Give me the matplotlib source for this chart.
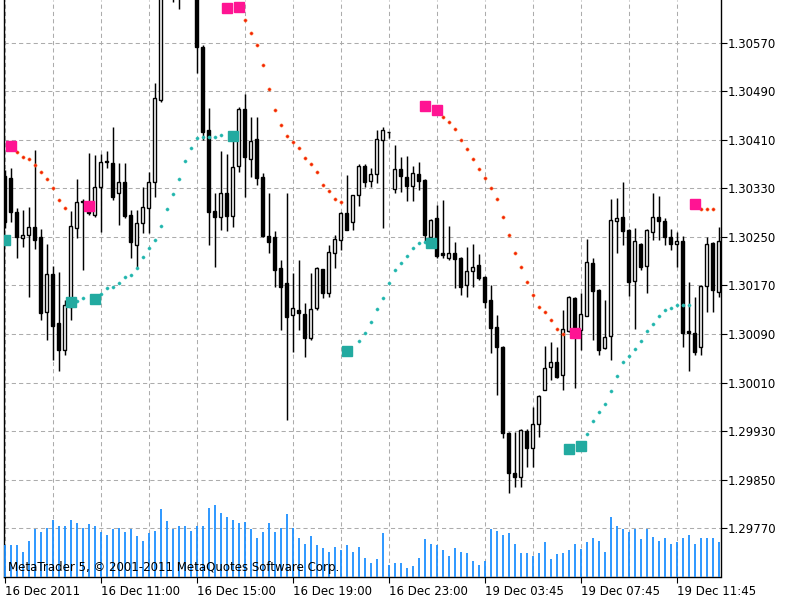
import numpy as np
import matplotlib
matplotlib.use("Agg")
from matplotlib import pyplot as plt

# EURUSD M15 bars, 16-19 Dec 2011 (prices)
opens = [1.30351, 1.30348, 1.30291, 1.30249, 1.30253, 1.30267, 1.30250, 1.30126, 1.30189, 1.30108,
         1.30064, 1.30135, 1.30265, 1.30308, 1.30306, 1.30286, 1.30333, 1.30374, 1.30372, 1.30323,
         1.30341, 1.30286, 1.30237, 1.30273, 1.30298, 1.30341, 1.30476, 1.30666, 1.30705, 1.30660,
         1.30680, 1.30725, 1.30700, 1.30563, 1.30427, 1.30293, 1.30283, 1.30323, 1.30285, 1.30367,
         1.30461, 1.30379, 1.30412, 1.30349, 1.30252, 1.30250, 1.30199, 1.30174, 1.30121, 1.30130,
         1.30123, 1.30084, 1.30133, 1.30197, 1.30158, 1.30224, 1.30245, 1.30290, 1.30275, 1.30319,
         1.30367, 1.30343, 1.30354, 1.30410, 1.30423, 1.30329, 1.30362, 1.30349, 1.30334, 1.30354,
         1.30344, 1.30250, 1.30281, 1.30224, 1.30216, 1.30224, 1.30216, 1.30171, 1.30194, 1.30204,
         1.30184, 1.30146, 1.30102, 1.30069, 1.29927, 1.29861, 1.29854, 1.29930, 1.29902, 1.29942,
         1.29998, 1.30036, 1.30044, 1.30023, 1.30095, 1.30150, 1.30097, 1.30120, 1.30207, 1.30163,
         1.30067, 1.30087, 1.30277, 1.30283, 1.30262, 1.30178, 1.30239, 1.30202, 1.30258, 1.30283,
         1.30277, 1.30250, 1.30239, 1.30244, 1.30095, 1.30092, 1.30069, 1.30169, 1.30240, 1.30159]
highs = [1.30361, 1.30364, 1.30298, 1.30295, 1.30300, 1.30394, 1.30263, 1.30239, 1.30202, 1.30192,
         1.30146, 1.30293, 1.30346, 1.30313, 1.30389, 1.30385, 1.30387, 1.30392, 1.30432, 1.30372,
         1.30372, 1.30295, 1.30295, 1.30333, 1.30357, 1.30504, 1.30683, 1.30720, 1.30730, 1.30700,
         1.30740, 1.30760, 1.30715, 1.30567, 1.30463, 1.30323, 1.30392, 1.30387, 1.30412, 1.30465,
         1.30486, 1.30448, 1.30448, 1.30356, 1.30323, 1.30260, 1.30212, 1.30323, 1.30191, 1.30212,
         1.30141, 1.30191, 1.30201, 1.30198, 1.30237, 1.30253, 1.30291, 1.30352, 1.30320, 1.30371,
         1.30371, 1.30364, 1.30427, 1.30432, 1.30424, 1.30402, 1.30382, 1.30384, 1.30367, 1.30374,
         1.30345, 1.30279, 1.30303, 1.30311, 1.30268, 1.30242, 1.30217, 1.30234, 1.30239, 1.30222,
         1.30185, 1.30171, 1.30121, 1.30070, 1.29928, 1.29928, 1.29933, 1.29933, 1.29970, 1.29989,
         1.30070, 1.30077, 1.30069, 1.30130, 1.30153, 1.30151, 1.30158, 1.30247, 1.30216, 1.30164,
         1.30146, 1.30313, 1.30315, 1.30341, 1.30263, 1.30265, 1.30240, 1.30263, 1.30323, 1.30318,
         1.30281, 1.30263, 1.30258, 1.30252, 1.30176, 1.30151, 1.30170, 1.30250, 1.30241, 1.30267]
lows = [1.30265, 1.30275, 1.30216, 1.30234, 1.30151, 1.30230, 1.30113, 1.30080, 1.30047, 1.30029,
        1.30055, 1.30113, 1.30249, 1.30196, 1.30286, 1.30283, 1.30258, 1.30364, 1.30311, 1.30270,
        1.30281, 1.30216, 1.30199, 1.30257, 1.30257, 1.30316, 1.30473, 1.30650, 1.30638, 1.30626,
        1.30660, 1.30690, 1.30521, 1.30410, 1.30237, 1.30201, 1.30262, 1.30260, 1.30267, 1.30357,
        1.30316, 1.30349, 1.30336, 1.30250, 1.30224, 1.30168, 1.30097, 1.29948, 1.30060, 1.30097,
        1.30052, 1.30080, 1.30130, 1.30150, 1.30151, 1.30199, 1.30229, 1.30261, 1.30262, 1.30301,
        1.30333, 1.30333, 1.30339, 1.30265, 1.30414, 1.30323, 1.30324, 1.30310, 1.30310, 1.30328,
        1.30240, 1.30234, 1.30216, 1.30216, 1.30212, 1.30166, 1.30154, 1.30151, 1.30168, 1.30179,
        1.30133, 1.30059, 1.29989, 1.29918, 1.29828, 1.29838, 1.29838, 1.29871, 1.29871, 1.29920,
        1.29997, 1.30014, 1.30018, 1.29998, 1.30094, 1.30001, 1.30064, 1.30119, 1.30080, 1.30055,
        1.30066, 1.30047, 1.30224, 1.30237, 1.30153, 1.30098, 1.30196, 1.30158, 1.30245, 1.30245,
        1.30237, 1.30229, 1.30201, 1.30069, 1.30029, 1.30055, 1.30055, 1.30126, 1.30126, 1.30151]
closes = [1.30275, 1.30291, 1.30250, 1.30253, 1.30267, 1.30245, 1.30125, 1.30189, 1.30103, 1.30064,
          1.30138, 1.30268, 1.30308, 1.30310, 1.30290, 1.30333, 1.30374, 1.30376, 1.30316, 1.30341,
          1.30285, 1.30242, 1.30273, 1.30300, 1.30341, 1.30480, 1.30666, 1.30705, 1.30660, 1.30680,
          1.30725, 1.30700, 1.30563, 1.30423, 1.30291, 1.30283, 1.30323, 1.30285, 1.30366, 1.30461,
          1.30382, 1.30409, 1.30348, 1.30252, 1.30242, 1.30196, 1.30168, 1.30118, 1.30133, 1.30125,
          1.30084, 1.30131, 1.30199, 1.30158, 1.30225, 1.30247, 1.30290, 1.30262, 1.30319, 1.30367,
          1.30341, 1.30354, 1.30412, 1.30427, 1.30424, 1.30362, 1.30351, 1.30334, 1.30356, 1.30343,
          1.30253, 1.30278, 1.30219, 1.30220, 1.30224, 1.30214, 1.30168, 1.30194, 1.30201, 1.30182,
          1.30143, 1.30100, 1.30069, 1.29927, 1.29861, 1.29854, 1.29932, 1.29902, 1.29942, 1.29988,
          1.30034, 1.30044, 1.30019, 1.30098, 1.30151, 1.30092, 1.30123, 1.30209, 1.30161, 1.30064,
          1.30085, 1.30278, 1.30281, 1.30260, 1.30176, 1.30244, 1.30201, 1.30262, 1.30283, 1.30277,
          1.30250, 1.30239, 1.30244, 1.30092, 1.30092, 1.30060, 1.30169, 1.30239, 1.30163, 1.30244]
# tick volumes
volumes = [320, 320, 320, 250, 360, 480, 450, 490, 570, 510,
           510, 570, 540, 490, 530, 510, 450, 420, 480, 490,
           450, 480, 410, 360, 440, 460, 680, 560, 480, 510,
           510, 460, 510, 510, 690, 720, 640, 600, 570, 540,
           550, 480, 390, 450, 540, 450, 490, 630, 490, 390,
           330, 410, 320, 290, 250, 300, 270, 320, 250, 300,
           190, 140, 180, 440, 120, 140, 140, 90, 110, 190,
           380, 330, 320, 270, 210, 290, 250, 240, 160, 120,
           160, 480, 460, 420, 440, 330, 240, 240, 210, 240,
           350, 180, 230, 240, 270, 330, 280, 350, 390, 360,
           250, 600, 510, 480, 450, 480, 380, 480, 400, 360,
           390, 330, 350, 390, 420, 330, 390, 390, 390, 350]

# parabolic SAR dots (bar number, price)
sar_dn_bars = [2, 3, 4, 5, 6, 7, 8, 9, 10,
               40, 41, 42, 43, 44, 45, 46, 47, 48, 49, 50, 51, 52, 53, 54, 55, 56,
               73, 74, 75, 76, 77, 78, 79, 80, 81, 82, 83, 84, 85, 86, 87, 88, 89, 90, 91, 92, 93,
               116, 117, 118]
sar_dn = [1.30390, 1.30382, 1.30379, 1.30369, 1.30357, 1.30346, 1.30331, 1.30311, 1.30298,
          1.30608, 1.30587, 1.30567, 1.30534, 1.30494, 1.30460, 1.30435, 1.30417, 1.30407, 1.30397,
          1.30380, 1.30371, 1.30357, 1.30336, 1.30326, 1.30313, 1.30308,
          1.30448, 1.30440, 1.30428, 1.30410, 1.30395, 1.30379, 1.30362, 1.30348, 1.30331, 1.30313,
          1.30283, 1.30253, 1.30224, 1.30201, 1.30176, 1.30155, 1.30135, 1.30126, 1.30113, 1.30098,
          1.30090,
          1.30296, 1.30296, 1.30296]
sar_up_bars = [12, 13, 16, 17, 18, 19, 20, 21, 22, 23, 24, 25, 26, 27, 28, 29, 30, 31, 32, 33, 34, 35, 36,
               59, 60, 61, 62, 63, 64, 65, 66, 67, 68, 69, 70,
               97, 98, 99, 100, 101, 102, 103, 104, 105, 106, 107, 108, 109, 110, 111, 112, 113, 114]
sar_up = [1.30145, 1.30150, 1.30156, 1.30166, 1.30168, 1.30174, 1.30184, 1.30187, 1.30199, 1.30217,
          1.30232, 1.30245, 1.30268, 1.30296, 1.30321, 1.30346, 1.30376, 1.30397, 1.30413, 1.30415,
          1.30415, 1.30415, 1.30418,
          1.30079, 1.30092, 1.30110, 1.30131, 1.30150, 1.30174, 1.30196, 1.30207, 1.30219, 1.30232,
          1.30240, 1.30242,
          1.29925, 1.29947, 1.29961, 1.29975, 1.29996, 1.30021, 1.30044, 1.30054, 1.30065, 1.30079,
          1.30095, 1.30107, 1.30120, 1.30130, 1.30133, 1.30138, 1.30138, 1.30138]

# signal squares
sell_bars = [1, 14, 37, 39, 70, 72, 95, 115]
sell_px = [1.30400, 1.30301, 1.30628, 1.30630, 1.30466, 1.30460, 1.30092, 1.30305]
buy_bars = [0, 11, 15, 38, 57, 71, 94, 96]
buy_px = [1.30245, 1.30143, 1.30148, 1.30417, 1.30062, 1.30240, 1.29900, 1.29905]

price_ticks = [1.29770, 1.29850, 1.29930, 1.30010, 1.30090, 1.30170, 1.30250, 1.30330,
               1.30410, 1.30490, 1.30570]
time_ticks = [0, 16, 32, 48, 64, 80, 96, 112]
time_labels = ['16 Dec 2011', '16 Dec 11:00', '16 Dec 15:00', '16 Dec 19:00',
               '16 Dec 23:00', '19 Dec 03:45', '19 Dec 07:45', '19 Dec 11:45']

o = np.array(opens)
h = np.array(highs)
l = np.array(lows)
c = np.array(closes)
x = np.arange(len(o))
up = c >= o

fig = plt.figure(figsize=(8, 6), dpi=100)
rect = [3.5 / 800, 23 / 600, 717 / 800, 577 / 600]
ax = fig.add_axes(rect)
ax.set_xlim(-0.17, 119.33)
ax.set_ylim(1.296892, 1.306409)

# grid
ax.set_yticks(price_ticks)
ax.set_yticklabels(['%.5f' % p for p in price_ticks])
ax.set_xticks(time_ticks)
ax.set_xticklabels(time_labels)
ax.set_xticks(list(range(8, 120, 16)), minor=True)
ax.grid(True, which='both', axis='both', color='#acacac', lw=0.75, ls=(0, (4, 3)), zorder=0)
ax.set_axisbelow(True)

ax.yaxis.tick_right()
ax.tick_params(axis='y', direction='out', length=4, width=0.8, pad=1.5, labelsize=8.5,
               colors='black')
ax.tick_params(axis='x', which='major', direction='out', length=4, width=0.8, pad=1.5,
               labelsize=8.5)
ax.tick_params(axis='x', which='minor', length=0)
for lbl in ax.get_xticklabels():
    lbl.set_horizontalalignment('left')

ax.spines['top'].set_visible(False)
for s in ['left', 'right', 'bottom']:
    ax.spines[s].set_linewidth(1.0)
    ax.spines[s].set_color('black')

# candles
ax.vlines(x, l, h, color='black', lw=1.05, zorder=2)
body_w = 0.64
ax.bar(x[up], np.maximum(c[up] - o[up], 0.000004), bottom=o[up], width=body_w,
       color='white', edgecolor='black', lw=1.0, zorder=3)
ax.bar(x[~up], np.maximum(o[~up] - c[~up], 0.000004), bottom=c[~up], width=body_w,
       color='black', edgecolor='black', lw=1.0, zorder=3)

# SAR dots and signals
ax.plot(sar_dn_bars, sar_dn, 'o', ms=2.3, color='#f01e0a', mec='#ff7a30', mew=0.4, zorder=4)
ax.plot(sar_up_bars, sar_up, 'o', ms=2.3, color='#22b4ac', mec='#3cc4bc', mew=0.3, zorder=4)
ax.plot(sell_bars, sell_px, 's', ms=6.8, color='#ff1493', mec='#ff1493', zorder=5)
ax.plot(buy_bars, buy_px, 's', ms=6.8, color='#22aaa0', mec='#22aaa0', zorder=5)

# volumes, overlaid on the price window
ax2 = fig.add_axes(rect, sharex=ax)
ax2.set_axis_off()
ax2.set_ylim(0, 5770)
ax2.vlines(x, 0, volumes, color='#1e90ff', lw=1.3)
ax2.text(0.0065, 10 / 577, 'MetaTrader 5, \u00a9 2001-2011 MetaQuotes Software Corp.',
         transform=ax2.transAxes, ha='left', va='center', fontsize=8.5, color='black',
         zorder=6)

fig.savefig('out.png', dpi=100)
